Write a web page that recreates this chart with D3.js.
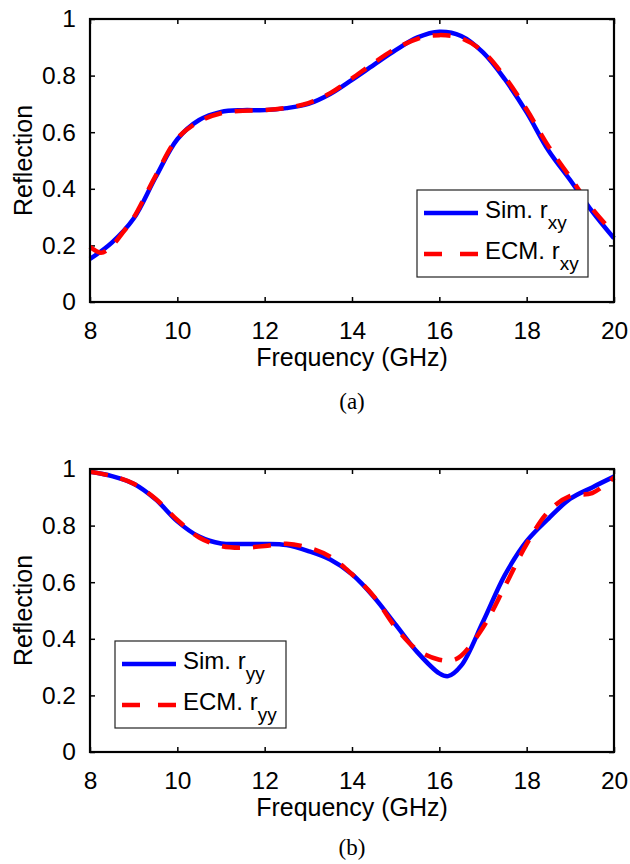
<!DOCTYPE html>
<html>
<head>
<meta charset="utf-8">
<script src="https://cdn.jsdelivr.net/npm/d3@7"></script>
<style>
   body { margin: 0; background: #fff; }
   text { font-family: Arial, "Liberation Sans", sans-serif; fill: #000; }
   .caption { font-family: "Times New Roman", "Liberation Serif", serif; }
</style>
</head>
<body>
<div id="mainChart"></div>
<script>
// Panel (a): r_xy
const simFreqA = [8, 8.5, 9, 9.5, 10, 10.5, 11, 11.5, 12, 12.5, 13, 13.5, 14, 14.5, 15, 15.5, 16, 16.5, 17, 17.5, 18, 18.5, 19, 19.5, 20]
const simA = [0.152, 0.21, 0.295, 0.44, 0.575, 0.643, 0.672, 0.678, 0.678, 0.685, 0.70, 0.735, 0.785, 0.838, 0.89, 0.935, 0.955, 0.94, 0.882, 0.787, 0.67, 0.535, 0.43, 0.32, 0.225]
const ecmFreqA = [8, 8.25, 8.5, 8.75, 9, 9.5, 10, 10.5, 11, 11.5, 12, 12.5, 13, 13.5, 14, 14.5, 15, 15.5, 16, 16.5, 17, 17.5, 18, 18.5, 19, 19.5, 20]
const ecmA = [0.195, 0.174, 0.198, 0.245, 0.298, 0.445, 0.578, 0.638, 0.667, 0.676, 0.678, 0.686, 0.703, 0.738, 0.79, 0.845, 0.895, 0.93, 0.943, 0.932, 0.885, 0.795, 0.68, 0.55, 0.44, 0.33, 0.242]

// Panel (b): r_yy
const simFreqB = [8, 8.5, 9, 9.5, 10, 10.5, 11, 11.5, 12, 12.5, 13, 13.5, 14, 14.5, 15, 15.5, 16, 16.2, 16.5, 17, 17.5, 18, 18.5, 19, 19.5, 20]
const simB = [0.99, 0.975, 0.948, 0.893, 0.815, 0.761, 0.737, 0.735, 0.735, 0.731, 0.71, 0.68, 0.628, 0.548, 0.45, 0.352, 0.278, 0.268, 0.305, 0.46, 0.625, 0.745, 0.825, 0.895, 0.935, 0.973]
const ecmFreqB = [8, 8.5, 9, 9.5, 10, 10.5, 11, 11.5, 12, 12.5, 13, 13.5, 14, 14.5, 15, 15.5, 16, 16.3, 16.5, 17, 17.5, 18, 18.5, 19, 19.5, 20]
const ecmB = [0.99, 0.975, 0.948, 0.895, 0.82, 0.758, 0.728, 0.722, 0.728, 0.736, 0.722, 0.69, 0.628, 0.55, 0.44, 0.36, 0.326, 0.324, 0.34, 0.44, 0.585, 0.735, 0.85, 0.905, 0.915, 0.97]

const xTicks = [8, 10, 12, 14, 16, 18, 20]
const yTicks = [0, 0.2, 0.4, 0.6, 0.8, 1]
const yTickLabels = ["0", "0.2", "0.4", "0.6", "0.8", "1"]
const xLabel = "Frequency (GHz)"
const yLabel = "Reflection"

const svg = d3.select("#mainChart").append("svg")
   .attr("width", 630)
   .attr("height", 864)

function drawPanel(p) {
   const left = 90, width = 524, height = 283
   const g = svg.append("g").attr("transform", "translate(0," + p.top + ")")

   const x = d3.scaleLinear().domain([8, 20]).range([left, left + width])
   const y = d3.scaleLinear().domain([0, 1]).range([height, 0])

   // Axes with inward ticks on all four sides
   const tl = 5
   g.append("g").attr("transform", "translate(0," + height + ")")
      .call(d3.axisBottom(x).tickValues(xTicks).tickSizeInner(-tl).tickSizeOuter(0).tickPadding(20).tickFormat(d3.format("d")))
   g.append("g").call(d3.axisTop(x).tickValues(xTicks).tickSizeInner(-tl).tickSizeOuter(0).tickFormat(""))
   g.append("g").attr("transform", "translate(" + left + ",0)")
      .call(d3.axisLeft(y).tickValues(yTicks).tickSizeInner(-tl).tickSizeOuter(0).tickPadding(14).tickFormat((d, i) => yTickLabels[i]))
   g.append("g").attr("transform", "translate(" + (left + width) + ",0)")
      .call(d3.axisRight(y).tickValues(yTicks).tickSizeInner(-tl).tickSizeOuter(0).tickFormat(""))

   g.selectAll(".domain").remove()
   g.selectAll(".tick line").attr("stroke", "#000").attr("stroke-width", 1.5)
   g.selectAll(".tick text").attr("font-size", 24.5).attr("font-family", "Arial, 'Liberation Sans', sans-serif")

   // Lines
   const line = (fs, vs) => d3.line()
      .x((d, i) => x(fs[i]))
      .y(d => y(d))
      .curve(d3.curveCatmullRom.alpha(0.5))(vs)

   g.append("path").attr("d", line(p.simF, p.sim))
      .attr("fill", "none").attr("stroke", "#0000ff").attr("stroke-width", 4.5)
   g.append("path").attr("d", line(p.ecmF, p.ecm))
      .attr("fill", "none").attr("stroke", "#ff0000").attr("stroke-width", 4.5)
      .attr("stroke-dasharray", "18,13")

   // Frame
   g.append("rect").attr("x", left).attr("y", 0).attr("width", width).attr("height", height)
      .attr("fill", "none").attr("stroke", "#000").attr("stroke-width", 2.2)

   // Labels
   g.append("text").attr("x", left + width / 2).attr("y", height + 64)
      .attr("text-anchor", "middle").attr("font-size", 25).text(xLabel)
   g.append("text").attr("transform", "translate(32," + (height / 2) + ") rotate(-90)")
      .attr("text-anchor", "middle").attr("font-size", 25).text(yLabel)
   g.append("text").attr("class", "caption").attr("x", left + width / 2).attr("y", p.captionY - p.top)
      .attr("text-anchor", "middle").attr("font-size", 23).text(p.caption)

   // Legend
   const lg = g.append("g").attr("transform", "translate(" + p.legend[0] + "," + p.legend[1] + ")")
   lg.append("rect").attr("width", 171).attr("height", 87)
      .attr("fill", "#fff").attr("stroke", "#222").attr("stroke-width", 1.2)
   const rows = [
      { name: "Sim. r", color: "#0000ff", dash: null, dy: 23 },
      { name: "ECM. r", color: "#ff0000", dash: "18,18", dy: 64 }
   ]
   rows.forEach(r => {
      lg.append("line").attr("x1", 7).attr("x2", 61).attr("y1", r.dy).attr("y2", r.dy)
         .attr("stroke", r.color).attr("stroke-width", 4.5).attr("stroke-dasharray", r.dash)
      const t = lg.append("text").attr("x", 68).attr("y", r.dy + 5).attr("font-size", 24)
      t.append("tspan").text(r.name)
      t.append("tspan").attr("dy", 11).attr("font-size", 19).text(p.sub)
   })
}

drawPanel({ top: 19, simF: simFreqA, sim: simA, ecmF: ecmFreqA, ecm: ecmA, legend: [417, 171], sub: "xy", caption: "(a)", captionY: 409 })
drawPanel({ top: 469, simF: simFreqB, sim: simB, ecmF: ecmFreqB, ecm: ecmB, legend: [115, 172], sub: "yy", caption: "(b)", captionY: 855 })
</script>
</body>
</html>
